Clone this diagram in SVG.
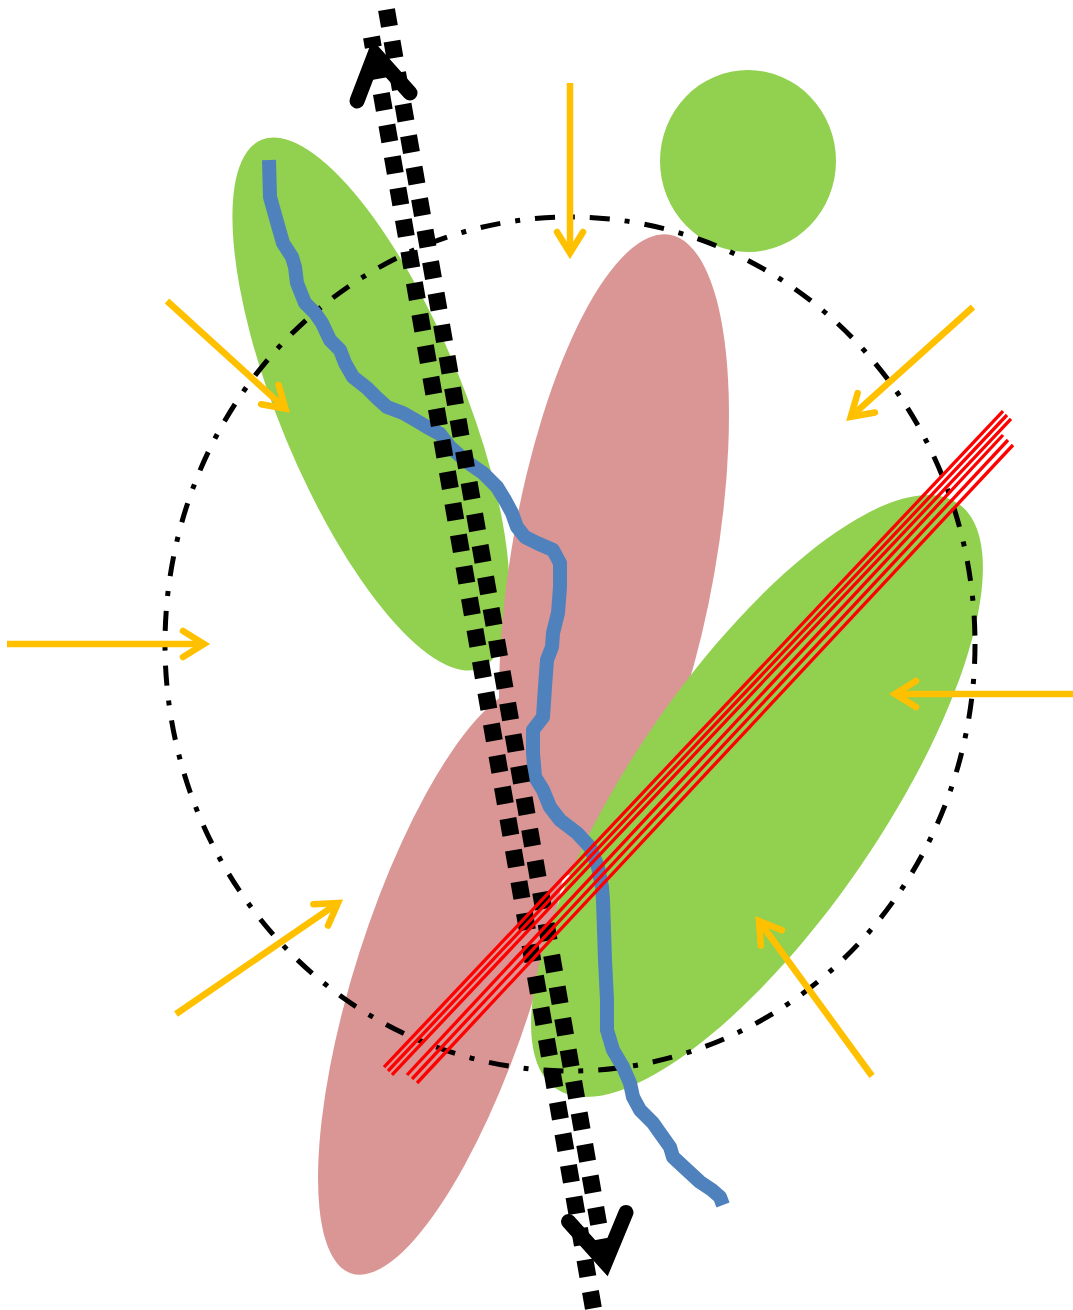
<svg xmlns="http://www.w3.org/2000/svg" width="1073" height="1310" viewBox="0 0 1073 1310">
<defs>
<style>
.green{fill:#92D050}
.pink{fill:#D99694}
.ring{fill:none;stroke:#000;stroke-width:5;stroke-dasharray:20 15 5 15}
.blue{fill:none;stroke:#4F81BD;stroke-width:14;stroke-linejoin:round;stroke-linecap:butt}
.sq{fill:none;stroke:#000;stroke-width:17;stroke-dasharray:17 15}
.ah{fill:none;stroke:#000;stroke-width:15;stroke-linecap:round;stroke-linejoin:miter;stroke-miterlimit:10}
.red{stroke:#FF0000;stroke-width:3.3}
.yel{fill:none;stroke:#FFC000;stroke-width:6.5;marker-end:url(#ya)}
</style>
<marker id="ya" markerUnits="userSpaceOnUse" orient="auto" overflow="visible" refX="0" refY="0" markerWidth="1" markerHeight="1">
<path d="M -21,-13 L 0,0 L -21,13" fill="none" stroke="#FFC000" stroke-width="6.5" stroke-linecap="round" stroke-linejoin="miter"/>
</marker>
</defs>
<rect width="1073" height="1310" fill="#fff"/>
<g id="shapes">
<ellipse id="green-left" class="green" cx="371" cy="404" rx="286" ry="92" transform="rotate(67.5 371 404)"/>
<ellipse id="pink-lower" class="pink" cx="445" cy="980" rx="90" ry="308" transform="rotate(17.7 445 980)"/>
<ellipse id="pink-upper" class="pink" cx="614" cy="555" rx="102" ry="325" transform="rotate(9.9 614 555)"/>
<ellipse id="green-right" class="green" cx="757" cy="796" rx="355" ry="125" transform="rotate(-55.5 757 796)"/>
<ellipse id="green-circle" class="green" cx="748" cy="161" rx="88" ry="91"/>
</g>
<g id="ring">
<ellipse class="ring" cx="570" cy="644" rx="405" ry="427"/>
</g>
<g id="connectors">
<polyline id="blue-path" class="blue" points="269,160 270,197 277,222 283,243 292,257 295,267 297,283 305,303 315,313 322,323 330,340 340,350 345,363 353,377 367,388 377,398 387,407 403,413 417,421 427,427 440,434 450,447 467,462 483,473 497,487 505,500 512,513 517,527 525,537 537,543 553,550 560,563 560,587 558,613 553,633 552,647 547,660 545,687 543,717 533,730 533,753 535,777 543,790 550,807 560,820 577,833 590,847 598,867 602,887 603,900 605,960 607,1000 607,1030 613,1050 623,1067 630,1083 633,1097 640,1110 653,1123 660,1133 670,1147 673,1157 687,1170 700,1182 712,1190 720,1197 723,1205"/>
<g id="dotted-arrow">
<line class="sq" x1="371.5" y1="37" x2="593.7" y2="1310" stroke-dashoffset="6.6"/>
<line class="sq" x1="385.7" y1="5" x2="605.3" y2="1262.5" stroke-dashoffset="27.3"/>
<polyline class="ah" points="357,101 375,54 410,93"/>
<polyline class="ah" points="568.5,1221.5 605.3,1262.5 626,1212.5"/>
</g>
<g id="red-lines">
<line class="red" x1="384" y1="1067.2" x2="1003" y2="411.2"/>
<line class="red" x1="388" y1="1071" x2="1007" y2="415"/>
<line class="red" x1="392" y1="1074.8" x2="1011" y2="418.8"/>
<line class="red" x1="407" y1="1075" x2="1003" y2="435"/>
<line class="red" x1="412" y1="1079" x2="1008" y2="440"/>
<line class="red" x1="417" y1="1083" x2="1013" y2="445"/>
</g>
<g id="yellow-arrows">
<line class="yel" x1="570" y1="83" x2="570" y2="253"/>
<line class="yel" x1="167" y1="301" x2="285.4" y2="408.7"/>
<line class="yel" x1="973" y1="307" x2="850.7" y2="416.8"/>
<line class="yel" x1="7" y1="644" x2="204" y2="644"/>
<line class="yel" x1="1073" y1="694" x2="895" y2="694"/>
<line class="yel" x1="176" y1="1014" x2="338" y2="903"/>
<line class="yel" x1="872" y1="1076" x2="759" y2="921"/>
</g>
</g>
</svg>
